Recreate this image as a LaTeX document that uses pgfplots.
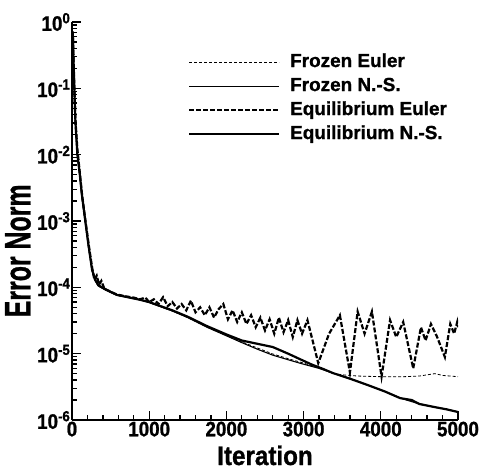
\documentclass[border=0pt]{standalone}
\usepackage{fontspec}
\usepackage{graphicx}
\usepackage{pgfplots}
\pgfplotsset{compat=1.18}
\setmainfont{Liberation Sans}
\newfontfamily\cfb{Liberation Sans Bold}[FakeStretch=0.9,FakeBold=1]
\newfontfamily\bfb{Liberation Sans Bold}[FakeBold=1]

\begin{document}
\begin{tikzpicture}
\begin{axis}[
  scale only axis,
  width=386bp, height=398bp,
  ymode=log,
  xmin=0, xmax=5000, ymin=1e-6, ymax=1,
  axis lines*=left,
  axis line style={line width=1.8bp},
  xtick={0,1000,2000,3000,4000,5000},
  minor x tick num=4,
  ytick={1e-6,1e-5,1e-4,1e-3,1e-2,1e-1,1},
  yticklabels={10\textsuperscript{-6},10\textsuperscript{-5},10\textsuperscript{-4},10\textsuperscript{-3},10\textsuperscript{-2},10\textsuperscript{-1},10\textsuperscript{0}},
  xticklabels={0,1000,2000,3000,4000,5000},
  tick align=inside,
  major tick length=9bp, minor tick length=5bp,
  every tick/.style={line width=1.3bp, black},
  ticklabel style={font=\cfb\fontsize{21}{21}\selectfont, inner sep=1.5bp},
  xlabel={\cfb\fontsize{27}{27}\selectfont Iteration},
  xlabel style={at={(axis description cs:0.5,0)}, anchor=north, yshift=-22bp},
  ylabel={\scalebox{1}[1.48]{\bfb\fontsize{25}{25}\selectfont Error Norm}},
  ylabel style={at={(axis description cs:-0.14,0.425)}, anchor=center},
  legend cell align=left,
  legend style={draw=none, fill=none, at={(axis description cs:0.30,0.925)}, anchor=north west,
    font=\bfb\fontsize{19}{19}\selectfont,
    inner sep=0pt, row sep=4bp,
    nodes={inner sep=1bp, text height=14bp, text depth=4bp}},
  legend image code/.code={\draw[#1] (0bp,0bp) -- (90bp,0bp);},
]
% Frozen Euler
\addplot[black, line width=0.8bp, dash pattern=on 3bp off 2bp] coordinates {
(0,0.32) (10,0.70) (25,0.16) (45,0.03) (70,0.011) (100,5.0e-3) (130,2.24e-3)
(170,1.0e-3) (215,4.0e-4) (260,1.78e-4) (300,1.26e-4) (340,1.05e-4) (420,9.3e-5)
(580,7.6e-5) (880,6.5e-5) (1000,5.9e-5) (1300,4.4e-5) (1500,3.5e-5) (1750,2.5e-5)
(2000,1.88e-5) (2175,1.55e-5) (2400,1.22e-5) (2600,9.9e-6) (2800,8.4e-6) (2950,7.5e-6)
(3200,6.1e-6) (3300,5.5e-6) (3400,5.0e-6) (3500,4.8e-6) (3700,4.6e-6) (4000,4.5e-6)
(4300,4.5e-6) (4500,4.6e-6) (4700,5.0e-6) (4800,4.7e-6) (5000,4.5e-6)
};
\addlegendentry{\hspace{9bp}Frozen Euler}
% Frozen N.-S.
\addplot[black, line width=1.1bp] coordinates {
(0,0.32) (10,0.70) (25,0.16) (45,0.03) (70,0.01) (100,5.0e-3) (130,2.24e-3)
(170,1.0e-3) (215,3.98e-4) (260,1.78e-4) (300,1.26e-4) (340,1.05e-4) (420,9.3e-5)
(580,7.6e-5) (880,6.5e-5) (1000,5.9e-5) (1300,4.4e-5) (1500,3.5e-5) (1750,2.5e-5)
(2000,1.86e-5) (2175,1.51e-5) (2400,1.17e-5) (2600,9.5e-6) (2800,8.1e-6) (2950,7.2e-6)
(3200,6.0e-6) (3380,5.1e-6) (3600,4.2e-6) (3820,3.4e-6) (4050,2.7e-6) (4250,2.14e-6)
(4450,1.82e-6) (4680,1.58e-6) (4850,1.45e-6) (5000,1.32e-6)
};
\addlegendentry{\hspace{9bp}Frozen N.-S.}
% Equilibrium Euler
\addplot[black, line width=2.2bp, dash pattern=on 5bp off 2bp] coordinates {
(0,0.32) (10,0.72) (25,0.17) (45,0.032) (70,0.012) (100,5.5e-3) (130,2.5e-3)
(170,1.1e-3) (215,4.5e-4) (260,2.0e-4) (290,1.3e-4) (320,1.5e-4) (350,1.1e-4)
(380,1.25e-4) (420,9.5e-5) (500,8.6e-5) (580,7.8e-5) (700,7.3e-5) (800,7.0e-5)
(880,6.6e-5) (950,7.0e-5)
(1000,6.0e-5) (1060,6.6e-5) (1120,5.6e-5) (1180,7.1e-5) (1240,5.2e-5) (1300,6.0e-5)
(1360,4.8e-5) (1420,5.6e-5) (1480,4.5e-5) (1540,6.3e-5) (1600,4.2e-5) (1660,5.0e-5)
(1720,3.8e-5) (1780,5.0e-5) (1840,3.5e-5) (1900,4.7e-5) (1960,5.6e-5) (2020,3.3e-5)
(2080,4.5e-5) (2140,3.0e-5) (2200,4.2e-5) (2260,2.8e-5) (2320,3.8e-5) (2380,2.5e-5)
(2440,3.5e-5) (2500,2.24e-5) (2560,3.3e-5) (2620,2.0e-5) (2680,3.5e-5) (2740,2.1e-5)
(2800,3.2e-5) (2860,1.78e-5) (2920,3.2e-5) (2980,2.0e-5) (3050,3.2e-5)
(3190,7.2e-6) (3330,2.0e-5) (3470,3.8e-5) (3600,5.2e-6) (3700,4.3e-5) (3790,2.0e-5)
(3885,4.3e-5) (4010,4.5e-6) (4120,3.2e-5) (4200,1.78e-5) (4290,3.0e-5) (4420,6.0e-6)
(4520,2.5e-5) (4580,1.58e-5) (4650,2.8e-5) (4730,1.78e-5) (4830,8.9e-6) (4900,2.8e-5)
(4950,2.0e-5) (4990,3.0e-5) (5000,2.5e-5)
};
\addlegendentry{\hspace{9bp}Equilibrium Euler}
% Equilibrium N.-S.
\addplot[black, line width=2.2bp] coordinates {
(0,0.32) (10,0.68) (25,0.15) (45,0.03) (70,0.01) (100,5.2e-3) (130,2.4e-3)
(170,1.05e-3) (215,4.2e-4) (260,1.85e-4) (300,1.3e-4) (340,1.08e-4) (420,9.5e-5)
(580,7.7e-5) (880,6.5e-5) (1000,6.0e-5) (1300,4.5e-5) (1500,3.6e-5) (1750,2.6e-5)
(2000,1.95e-5) (2200,1.58e-5) (2400,1.41e-5) (2600,1.26e-5) (2800,1.0e-5) (2950,8.3e-6)
(3100,6.9e-6) (3250,5.9e-6) (3380,5.1e-6) (3600,4.2e-6) (3820,3.4e-6) (4050,2.7e-6)
(4250,2.14e-6) (4400,2.0e-6) (4500,1.74e-6) (4680,1.58e-6) (4850,1.45e-6) (5000,1.32e-6)
};
\addlegendentry{\hspace{9bp}Equilibrium N.-S.}
\coordinate (ll) at (rel axis cs:0,0);
\end{axis}
\pgfresetboundingbox
\path (ll) ++(-72bp,-51bp) rectangle ++(481bp,471bp);
\end{tikzpicture}
\end{document}
